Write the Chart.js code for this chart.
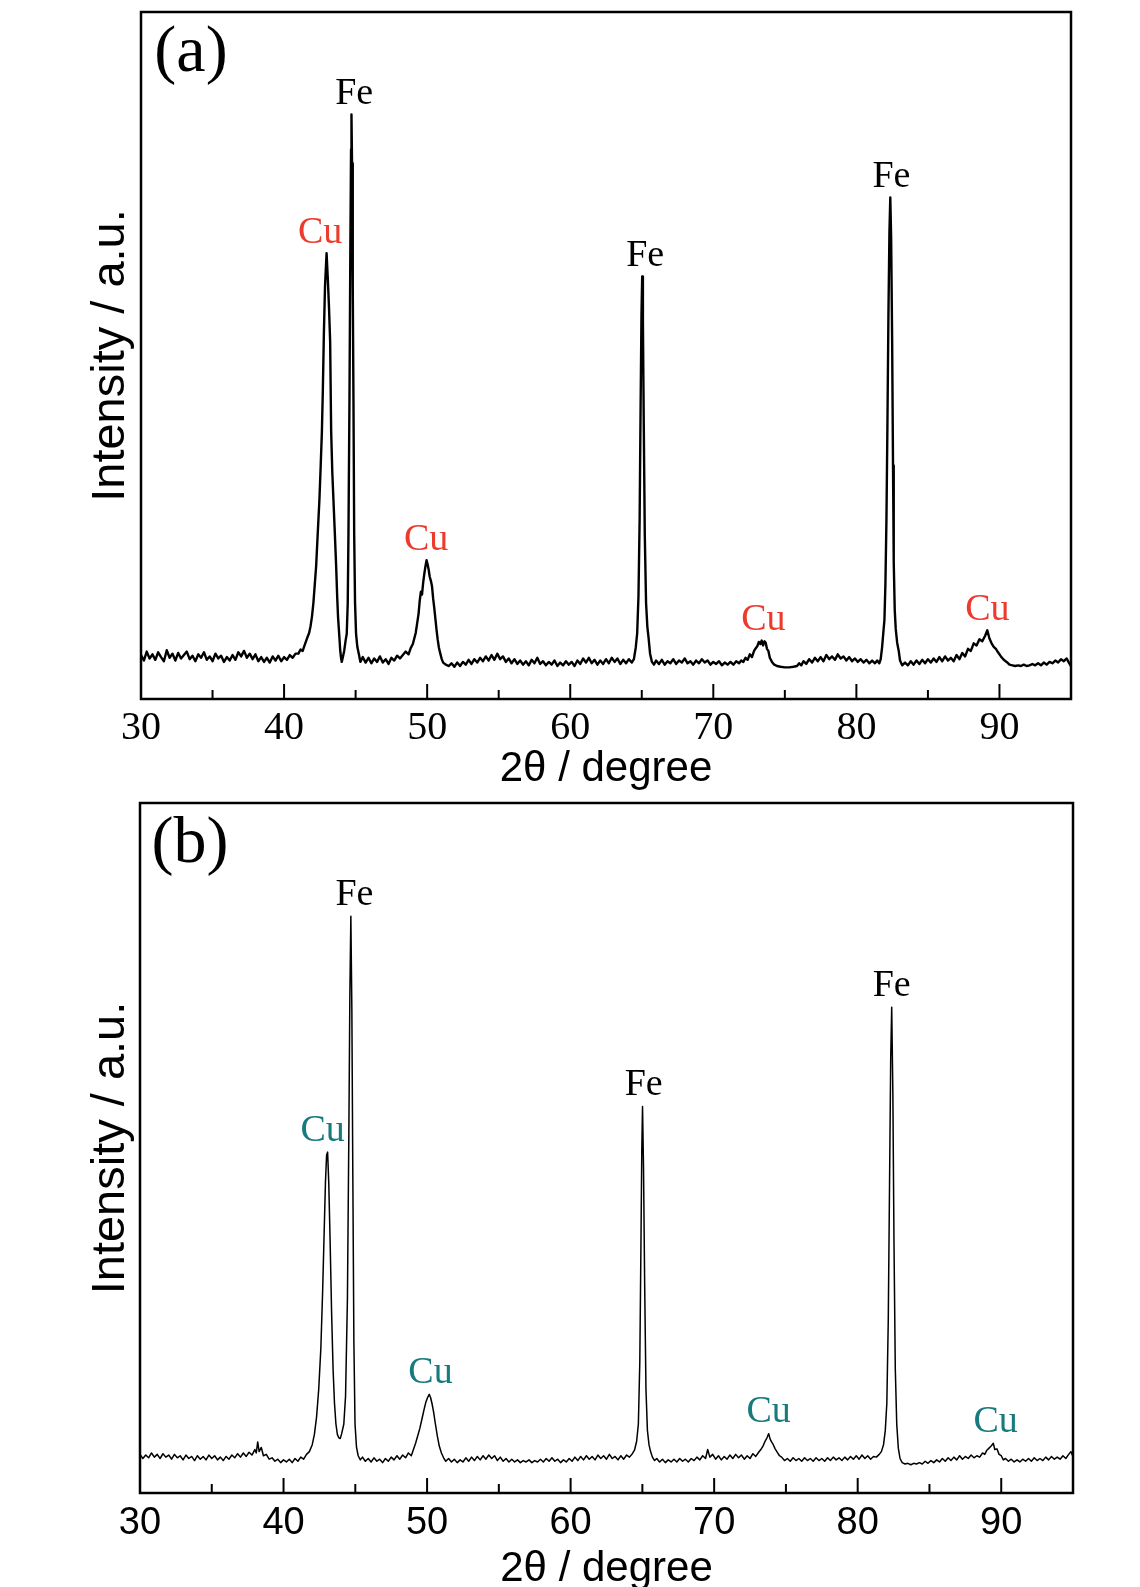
<!DOCTYPE html>
<html>
<head>
<meta charset="utf-8">
<script src="https://cdn.jsdelivr.net/npm/chart.js@4.4.1/dist/chart.umd.min.js"></script>
<style>
html,body{margin:0;padding:0;background:#fff;overflow:hidden;width:1140px;height:1587px}
#wa{position:absolute;left:0;top:0;width:1140px;height:790px}
#wb{position:absolute;left:0;top:790px;width:1140px;height:797px}
</style>
</head>
<body>
<div id="wa"><canvas id="ca"></canvas></div>
<div id="wb"><canvas id="cb"></canvas></div>
<script>
// ---------- data (2θ in degrees, intensity in arbitrary units 0-100) ----------
const thetaA = [
30.0,30.2,30.4,30.6,30.8,31.0,31.2,31.4,31.6,31.8,
32.0,32.2,32.4,32.6,32.8,33.0,33.2,33.4,33.6,33.8,
34.0,34.2,34.4,34.6,34.8,35.0,35.2,35.4,35.6,35.8,
36.0,36.2,36.4,36.6,36.8,37.0,37.2,37.4,37.6,37.8,
38.0,38.2,38.4,38.6,38.8,39.0,39.2,39.4,39.6,39.8,
40.0,40.2,40.4,40.6,40.8,41.0,41.15,41.3,41.45,41.6,
41.75,41.85,41.95,42.05,42.15,42.24,42.35,42.47,42.56,42.64,
42.71,42.78,42.86,42.97,43.06,43.14,43.22,43.29,43.37,43.45,
43.55,43.64,43.71,43.77,43.85,43.92,43.98,44.03,44.1,44.2,
44.3,44.38,44.45,44.5,44.57,44.63,44.68,44.71,44.75,44.8,
44.85,44.9,44.96,45.03,45.12,45.24,45.33,45.5,45.7,45.9,
46.1,46.3,46.5,46.7,46.9,47.1,47.3,47.5,47.7,47.9,
48.1,48.3,48.5,48.7,48.85,49.0,49.1,49.2,49.3,49.4,
49.48,49.56,49.64,49.72,49.8,49.88,49.96,50.03,50.1,50.18,
50.26,50.34,50.42,50.5,50.58,50.66,50.74,50.82,50.92,51.02,
51.12,51.3,51.5,51.7,51.9,52.1,52.3,52.5,52.7,52.9,
53.1,53.3,53.5,53.7,53.9,54.1,54.3,54.5,54.7,54.9,
55.1,55.3,55.5,55.7,55.9,56.1,56.3,56.5,56.7,56.9,
57.1,57.3,57.5,57.7,57.9,58.1,58.3,58.5,58.7,58.9,
59.1,59.3,59.5,59.7,59.9,60.1,60.3,60.5,60.7,60.9,
61.1,61.3,61.5,61.7,61.9,62.1,62.3,62.5,62.7,62.9,
63.1,63.3,63.5,63.7,63.9,64.1,64.3,64.45,64.58,64.68,
64.77,64.85,64.92,64.98,65.03,65.08,65.14,65.21,65.3,65.39,
65.47,65.58,65.71,65.85,66.0,66.2,66.4,66.6,66.8,67.0,
67.2,67.4,67.6,67.8,68.0,68.2,68.4,68.6,68.8,69.0,
69.2,69.4,69.6,69.8,70.0,70.2,70.4,70.6,70.8,71.0,
71.2,71.4,71.6,71.8,71.95,72.1,72.25,72.4,72.55,72.7,
72.85,72.97,73.08,73.18,73.29,73.38,73.48,73.58,73.66,73.75,
73.85,73.95,74.1,74.26,74.45,74.7,75.0,75.3,75.6,75.85,
76.0,76.15,76.3,76.5,76.7,76.9,77.1,77.3,77.5,77.7,
77.9,78.1,78.3,78.5,78.7,78.9,79.1,79.3,79.5,79.7,
79.9,80.1,80.3,80.5,80.7,80.9,81.1,81.3,81.45,81.6,
81.7,81.8,81.88,81.96,82.03,82.1,82.17,82.24,82.31,82.37,
82.43,82.5,82.56,82.61,82.68,82.75,82.85,82.96,83.05,83.2,
83.4,83.6,83.8,84.0,84.2,84.4,84.6,84.8,85.0,85.2,
85.4,85.6,85.8,86.0,86.2,86.4,86.6,86.8,87.0,87.2,
87.4,87.6,87.8,88.0,88.2,88.4,88.6,88.8,89.0,89.15,
89.3,89.45,89.6,89.75,89.9,90.1,90.3,90.5,90.7,90.9,
91.1,91.3,91.5,91.7,91.9,92.1,92.3,92.5,92.7,92.9,
93.1,93.3,93.5,93.7,93.9,94.1,94.3,94.5,94.7,94.85,
95.0];
const intensityA = [
6.4,5.6,6.9,5.9,6.5,5.7,6.8,6.1,5.5,7.1,
6.0,6.6,5.6,6.7,5.9,6.4,6.9,5.8,6.3,5.5,
6.5,6.0,6.8,5.7,6.2,5.5,6.6,5.9,6.3,5.4,
6.1,5.6,6.4,5.7,6.8,6.2,7.0,6.0,6.6,5.8,
6.5,5.5,6.1,5.4,6.0,5.3,6.2,5.6,6.3,5.5,
6.1,5.7,6.4,6.0,6.6,6.6,7.2,7.0,7.9,8.8,
9.6,10.6,12.0,14.0,16.8,19.3,24,29,34,38.7,
45,53,60,64.9,61,57,52,39,33,29,
24,19.3,15,12,9.5,7.2,6.0,5.4,6.0,7.0,
8.5,9.5,14,24,43.5,65,80,85.1,78,60,
43.5,24,14,9.5,7.6,6.4,5.4,6.1,5.3,6.0,
5.2,5.9,5.4,6.2,5.3,5.8,5.1,6.0,5.6,6.3,
5.9,6.4,6.9,6.5,7.4,8.0,8.8,9.6,11.0,12.4,
14.3,15.6,15.2,16.9,18.2,19.3,20.2,19.6,18.9,17.8,
17.2,16.4,14.6,13.2,11.6,10.0,8.6,7.5,6.6,5.8,
5.3,5.0,4.8,5.2,4.7,5.3,4.8,5.4,5.0,5.7,
5.1,5.8,5.3,6.0,5.5,6.2,5.6,6.4,5.7,6.6,
5.8,6.2,5.4,5.9,5.2,5.8,5.1,5.6,5.0,5.5,
4.9,5.7,5.2,6.0,5.1,5.5,4.9,5.4,5.0,5.6,
4.8,5.3,4.9,5.5,5.0,5.4,4.8,5.6,5.1,5.9,
5.3,6.0,5.2,5.7,5.0,5.6,5.1,5.8,5.2,6.0,
5.4,5.9,5.1,5.7,5.2,5.8,5.3,5.8,7.5,9.6,
15,26,43,56,61.5,55,40,24,14,10.5,
9.0,6.6,5.4,5.0,5.6,5.1,5.7,5.0,5.5,5.2,
5.8,5.1,5.6,5.3,5.9,5.2,5.5,5.0,5.6,5.2,
5.8,5.3,5.6,5.0,5.4,5.1,5.5,4.9,5.3,5.0,
5.4,5.0,5.5,5.2,5.6,5.4,6.0,5.7,6.5,6.1,
7.0,7.4,7.7,8.3,8.0,8.5,7.8,8.4,8.2,7.3,
7.0,6.0,5.4,5.0,4.8,4.7,4.6,4.6,4.7,4.8,
5.2,4.9,5.5,5.1,5.8,5.3,6.0,5.5,6.1,5.5,
6.4,5.8,6.2,5.7,6.5,5.9,6.2,5.6,6.1,5.5,
5.9,5.4,5.8,5.3,5.7,5.2,5.6,5.2,5.6,5.2,
5.8,7.6,9.6,11.5,16.8,26,40,56,68,73,
67,52,34,20,13,10.2,8.2,7.0,5.6,4.9,
5.3,4.9,5.5,5.0,5.6,5.1,5.7,5.2,5.8,5.3,
5.9,5.4,6.1,5.5,6.2,5.6,6.0,5.5,6.4,5.8,
6.7,6.2,7.3,7.0,8.1,7.8,8.7,8.4,9.2,10.0,
8.8,8.1,7.6,7.3,6.8,6.2,5.7,5.4,5.0,4.9,
4.8,4.9,4.8,5.0,4.8,4.9,5.1,4.9,5.2,4.9,
5.3,5.0,5.4,5.2,5.6,5.3,5.8,5.5,5.9,5.3,
4.8];

const thetaB = [
30.0,30.2,30.4,30.6,30.8,31.0,31.2,31.4,31.6,31.8,
32.0,32.2,32.4,32.6,32.8,33.0,33.2,33.4,33.6,33.8,
34.0,34.2,34.4,34.6,34.8,35.0,35.2,35.4,35.6,35.8,
36.0,36.2,36.4,36.6,36.8,37.0,37.2,37.4,37.6,37.8,
38.0,38.1,38.2,38.3,38.45,38.6,38.8,39.0,39.2,39.4,
39.6,39.8,40.0,40.2,40.4,40.6,40.8,41.0,41.2,41.4,
41.6,41.8,42.0,42.15,42.3,42.45,42.6,42.72,42.82,42.92,
43.0,43.07,43.15,43.25,43.35,43.45,43.55,43.65,43.75,43.85,
43.95,44.05,44.2,44.32,44.45,44.55,44.62,44.69,44.76,44.83,
44.9,44.98,45.08,45.2,45.35,45.5,45.7,45.9,46.1,46.3,
46.5,46.7,46.9,47.1,47.3,47.5,47.7,47.9,48.1,48.3,
48.5,48.7,48.9,49.05,49.2,49.35,49.5,49.65,49.8,49.92,
50.05,50.15,50.25,50.35,50.45,50.58,50.72,50.85,51.0,51.15,
51.3,51.5,51.7,51.9,52.1,52.3,52.5,52.7,52.9,53.1,
53.3,53.5,53.7,53.9,54.1,54.3,54.5,54.7,54.9,55.1,
55.3,55.5,55.7,55.9,56.1,56.3,56.5,56.7,56.9,57.1,
57.3,57.5,57.7,57.9,58.1,58.3,58.5,58.7,58.9,59.1,
59.3,59.5,59.7,59.9,60.1,60.3,60.5,60.7,60.9,61.1,
61.3,61.5,61.7,61.9,62.1,62.3,62.5,62.7,62.9,63.1,
63.3,63.5,63.7,63.9,64.1,64.3,64.45,64.6,64.72,64.82,
64.9,64.96,65.01,65.08,65.16,65.25,65.35,65.46,65.57,65.7,
65.85,66.0,66.2,66.4,66.6,66.8,67.0,67.2,67.4,67.6,
67.8,68.0,68.2,68.4,68.6,68.8,69.0,69.2,69.4,69.55,
69.7,69.9,70.1,70.3,70.5,70.7,70.9,71.1,71.3,71.5,
71.7,71.9,72.1,72.3,72.5,72.7,72.9,73.1,73.25,73.4,
73.55,73.68,73.8,73.9,74.0,74.12,74.25,74.4,74.55,74.7,
74.9,75.1,75.3,75.5,75.7,75.9,76.1,76.3,76.5,76.7,
76.9,77.1,77.3,77.5,77.7,77.9,78.1,78.3,78.5,78.7,
78.9,79.1,79.3,79.5,79.7,79.9,80.1,80.3,80.5,80.7,
80.9,81.1,81.3,81.5,81.65,81.8,81.92,82.03,82.13,82.22,
82.3,82.37,82.45,82.53,82.62,82.72,82.83,82.95,83.1,83.3,
83.5,83.7,83.9,84.1,84.3,84.5,84.7,84.9,85.1,85.3,
85.5,85.7,85.9,86.1,86.3,86.5,86.7,86.9,87.1,87.3,
87.5,87.7,87.9,88.1,88.3,88.5,88.7,88.85,89.0,89.15,
89.3,89.45,89.55,89.7,89.85,90.0,90.15,90.3,90.5,90.7,
90.9,91.1,91.3,91.5,91.7,91.9,92.1,92.3,92.5,92.7,
92.9,93.1,93.3,93.5,93.7,93.9,94.1,94.3,94.5,94.7,
94.85,95.0];
const intensityB = [
5.6,5.0,5.5,5.1,5.8,5.2,5.6,5.0,5.7,5.2,
5.5,4.9,5.6,5.1,5.4,4.8,5.5,5.0,5.3,4.7,
5.4,4.9,5.3,4.8,5.5,5.0,5.4,4.8,5.2,4.7,
5.3,4.9,5.5,5.1,5.7,5.2,5.8,5.3,5.9,5.5,
6.3,5.8,7.4,6.0,6.6,5.4,5.6,4.9,5.1,4.6,
4.9,4.4,4.8,4.5,4.9,4.4,5.0,4.6,5.2,4.9,
5.6,6.0,7.0,8.5,11,15,21,29,37,45,
49,49.4,45,36,26,18,13,10,8.5,8.0,
7.9,8.6,10,14,28,52,72,83.6,70,45,
22,10,6.7,5.4,4.8,5.2,4.6,5.0,4.5,5.1,
4.6,4.9,4.4,5.0,4.6,5.2,4.8,5.4,4.9,5.5,
5.1,5.8,5.4,6.3,7.2,8.3,9.4,10.8,12.2,13.2,
13.9,14.3,13.8,12.9,11.8,10.0,8.2,6.8,5.8,5.1,
4.6,5.0,4.5,4.9,4.4,4.8,4.5,5.1,4.6,5.2,
4.7,5.3,4.8,5.4,4.9,5.5,5.0,5.4,4.7,5.2,
4.6,5.0,4.5,4.9,4.5,4.8,4.4,4.7,4.5,4.8,
4.4,4.7,4.5,4.9,4.5,5.0,4.6,5.1,4.6,4.9,
4.4,4.8,4.5,5.0,4.6,5.2,4.7,5.3,4.8,5.4,
4.9,5.3,4.8,5.5,5.0,5.4,4.9,5.6,5.0,5.3,
4.8,5.4,4.9,5.5,5.2,5.7,6.2,7.5,10,19,
36,50,56,47,30,15,9.1,7.0,6.0,5.2,
4.7,5.0,4.5,4.9,4.4,4.8,4.5,4.9,4.5,5.0,
4.6,4.9,4.5,5.0,4.7,5.2,4.8,5.4,5.0,6.3,
5.2,5.6,4.9,5.4,4.8,5.3,4.9,5.5,5.0,5.6,
5.1,5.5,4.9,5.4,5.0,5.7,5.3,5.9,6.3,6.8,
7.5,8.0,8.6,7.8,7.4,7.0,6.4,5.9,5.4,5.2,
4.7,5.0,4.6,5.1,4.7,5.0,4.6,5.1,4.7,5.0,
4.6,5.1,4.7,5.0,4.6,5.1,4.7,5.2,4.8,5.1,
4.7,5.2,4.8,5.3,4.9,5.4,4.9,5.5,5.0,5.4,
4.9,5.3,5.2,5.6,6.0,7.0,9,13,25,45,
63,70.4,58,36,18,10,6.5,5.0,4.4,4.2,
4.3,4.1,4.3,4.2,4.4,4.2,4.6,4.3,4.7,4.4,
4.8,4.5,5.0,4.6,5.1,4.7,5.2,4.8,5.4,4.9,
5.3,5.0,5.5,5.1,5.4,5.2,5.8,5.6,6.2,6.5,
6.8,7.2,6.3,6.4,5.6,5.4,4.8,5.0,4.6,4.9,
4.5,4.8,4.5,4.9,4.6,5.0,4.6,5.1,4.7,5.0,
4.7,5.2,4.8,5.3,4.9,5.2,4.9,5.4,5.0,5.6,
6.0,5.3];

const xTickLabels = ['30','40','50','60','70','80','90'];
const peakTextA  = ['Cu','Fe','Cu','Fe','Cu','Fe','Cu'];
const peakThetaA = [42.52,44.90,49.93,65.24,73.50,82.45,89.16];
const peakTextB  = ['Cu','Fe','Cu','Fe','Cu','Fe','Cu'];
const peakThetaB = [42.72,44.94,50.24,65.09,73.80,82.37,89.61];
const xTitle = '2θ / degree';
const yTitle = 'Intensity / a.u.';

if (thetaA.length !== intensityA.length) throw new Error('A length mismatch ' + thetaA.length + ' ' + intensityA.length);
if (thetaB.length !== intensityB.length) throw new Error('B length mismatch ' + thetaB.length + ' ' + intensityB.length);

// ---------- drawing ----------
const framePlugin = {
  id: 'frame',
  afterDatasetsDraw(chart, args, o) {
    const {ctx, chartArea: a, scales: {x, y}} = chart;
    ctx.save();
    ctx.strokeStyle = '#000';
    ctx.lineWidth = 2.5;
    ctx.strokeRect(a.left, a.top, a.right - a.left, a.bottom - a.top);
    ctx.lineWidth = 2;
    x.ticks.forEach(t => {
      if (t.value <= x.min || t.value >= x.max) return;
      const px = x.getPixelForValue(t.value);
      const len = (t.value % 10 === 0) ? 15 : 9;
      ctx.beginPath();
      ctx.moveTo(px, a.bottom);
      ctx.lineTo(px, a.bottom - len);
      ctx.stroke();
    });
    // panel letter
    ctx.fillStyle = '#000';
    ctx.font = '66px "Liberation Serif"';
    ctx.textAlign = 'center';
    ctx.textBaseline = 'alphabetic';
    ctx.fillText(o.letter, a.left + 50, a.top + 58.5);
    // peak labels
    const data = chart.data.datasets[0].data;
    ctx.font = '38px "Liberation Serif"';
    ctx.textBaseline = 'middle';
    o.texts.forEach((txt, i) => {
      const th = o.thetas[i];
      let m = -Infinity;
      data.forEach(p => { if (Math.abs(p.x - th) <= 0.6 && p.y > m) m = p.y; });
      ctx.fillStyle = txt === 'Cu' ? o.cuColor : '#000';
      ctx.fillText(txt, x.getPixelForValue(th), y.getPixelForValue(m) - o.offset);
    });
    ctx.restore();
  }
};

function makeChart(id, theta, intensity, c) {
  return new Chart(document.getElementById(id), {
    type: 'line',
    data: {
      datasets: [{
        data: theta.map((t, i) => ({x: t, y: intensity[i]})),
        borderColor: '#000',
        borderWidth: c.lineWidth,
        borderJoinStyle: 'round',
        pointRadius: 0,
        fill: false,
        tension: 0
      }]
    },
    options: {
      responsive: true,
      maintainAspectRatio: false,
      animation: false,
      devicePixelRatio: 1,
      layout: {padding: {left: 0, top: c.padTop, right: c.padRight, bottom: 0}},
      plugins: {
        legend: {display: false},
        tooltip: {enabled: false},
        frame: {letter: c.letter, texts: c.texts, thetas: c.thetas, cuColor: c.cuColor, offset: c.offset}
      },
      scales: {
        x: {
          type: 'linear',
          min: 30, max: 95,
          grid: {display: false, drawTicks: false},
          border: {display: false},
          ticks: {
            stepSize: 5,
            autoSkip: false,
            maxRotation: 0,
            padding: c.tickPad,
            color: '#000',
            font: c.tickFont,
            callback: v => xTickLabels.includes(String(v)) ? String(v) : ''
          },
          title: {
            display: true,
            text: xTitle,
            color: '#000',
            font: {family: 'Liberation Sans', size: 42},
            padding: {top: 0, bottom: c.titlePad}
          },
          afterFit: s => { s.height = c.xHeight; }
        },
        y: {
          min: 0, max: 100,
          grid: {display: false, drawTicks: false},
          border: {display: false},
          ticks: {display: false},
          title: {
            display: true,
            text: yTitle,
            color: '#000',
            font: {family: 'Liberation Sans', size: 47},
            padding: {top: 83, bottom: 0}
          },
          afterFit: s => { s.width = c.yWidth; }
        }
      }
    },
    plugins: [framePlugin]
  });
}

makeChart('ca', thetaA, intensityA, {
  padTop: 12, padRight: 69, yWidth: 141, xHeight: 91,
  tickFont: {family: 'Liberation Serif', size: 40}, tickPad: 5, titlePad: -5,
  lineWidth: 2.4, letter: '(a)', texts: peakTextA, thetas: peakThetaA,
  cuColor: '#ec3a2c', offset: 20.5
});
makeChart('cb', thetaB, intensityB, {
  padTop: 13, padRight: 67, yWidth: 140, xHeight: 94,
  tickFont: {family: 'Liberation Sans', size: 38}, tickPad: 8, titlePad: -8,
  lineWidth: 1.5, letter: '(b)', texts: peakTextB, thetas: peakThetaB,
  cuColor: '#177a7d', offset: 21.5
});
</script>
</body>
</html>
